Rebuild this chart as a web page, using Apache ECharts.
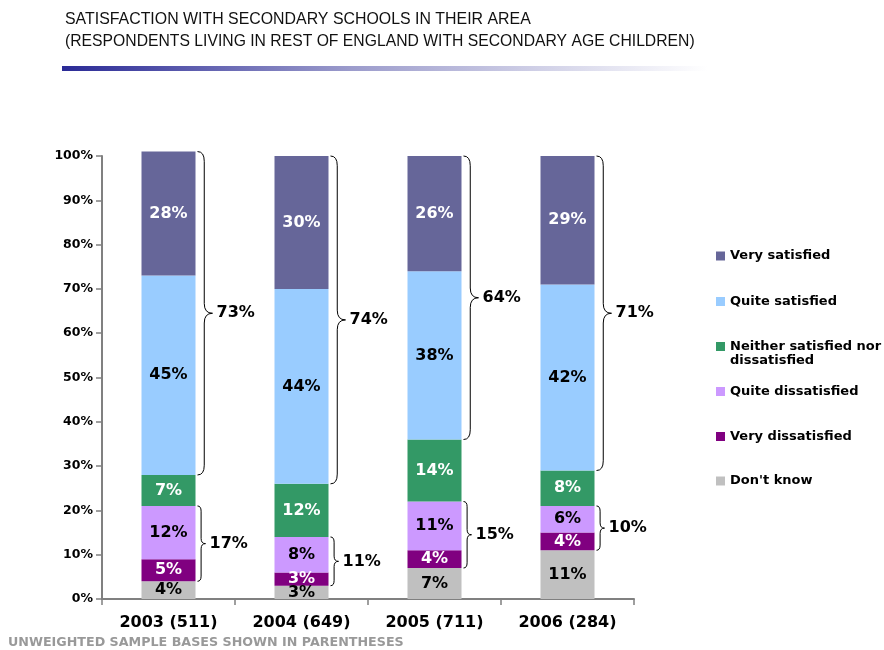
<!DOCTYPE html>
<html>
<head>
<meta charset="utf-8">
<script src="https://cdn.jsdelivr.net/npm/echarts@6/dist/echarts.min.js"></script>
<style>
  html, body { margin: 0; padding: 0; background: #fff; }
  #chart { width: 884px; height: 650px; }
</style>
</head>
<body>
<div id="chart"></div>
<script>
// categories + values (percent), stacked bottom -> top
const categories = ['2003 (511)', '2004 (649)', '2005 (711)', '2006 (284)'];
const dontKnow = [4, 3, 7, 11];
const veryDissatisfied = [5, 3, 4, 4];
const quiteDissatisfied = [12, 8, 11, 6];
const neither = [7, 12, 14, 8];
const quiteSatisfied = [45, 44, 38, 42];
const verySatisfied = [28, 30, 26, 29];
const yTicks = [0, 10, 20, 30, 40, 50, 60, 70, 80, 90, 100];

const FONT = 'DejaVu Sans';
const BAR_W = 54;
const NEITHER = 'Neither satisfied nor\ndissatisfied';

// brace rows: [category index, from, to, total]
const satBrace = categories.map((c, i) => {
  const base = dontKnow[i] + veryDissatisfied[i] + quiteDissatisfied[i] + neither[i];
  return [i, base, base + quiteSatisfied[i] + verySatisfied[i], quiteSatisfied[i] + verySatisfied[i]];
});
const disBrace = categories.map((c, i) => {
  const base = dontKnow[i];
  return [i, base, base + veryDissatisfied[i] + quiteDissatisfied[i], veryDissatisfied[i] + quiteDissatisfied[i]];
});

const chart = echarts.init(document.getElementById('chart'));

function braceRender(w) {
  return function (params, api) {
    const x0 = api.coord([api.value(0), 0])[0] + BAR_W / 2 + 2;
    const yBot = api.coord([api.value(0), api.value(1)])[1];
    const yTop = api.coord([api.value(0), api.value(2)])[1];
    const yMid = (yTop + yBot) / 2;
    const s = w * 0.45;
    const r = w * 0.65;
    const d = 'M' + x0 + ' ' + yTop +
      ' Q' + (x0 + s) + ' ' + yTop + ' ' + (x0 + s) + ' ' + (yTop + r) +
      ' L' + (x0 + s) + ' ' + (yMid - r) +
      ' Q' + (x0 + s) + ' ' + yMid + ' ' + (x0 + w) + ' ' + yMid +
      ' Q' + (x0 + s) + ' ' + yMid + ' ' + (x0 + s) + ' ' + (yMid + r) +
      ' L' + (x0 + s) + ' ' + (yBot - r) +
      ' Q' + (x0 + s) + ' ' + yBot + ' ' + x0 + ' ' + yBot;
    return {
      type: 'group',
      children: [
        { type: 'path', shape: { pathData: d }, style: { fill: 'none', stroke: '#000', lineWidth: 1 } },
        {
          type: 'text',
          style: {
            text: api.value(3) + '%', x: x0 + w + 4, y: yMid,
            fill: '#000', font: 'bold 16px ' + FONT, align: 'left', verticalAlign: 'middle'
          }
        }
      ]
    };
  };
}

function barSeries(name, data, color, labelColor) {
  return {
    name: name,
    type: 'bar',
    stack: 'all',
    barWidth: BAR_W,
    clip: false,
    itemStyle: { color: color },
    label: {
      show: true,
      position: 'inside',
      formatter: '{c}%',
      color: labelColor,
      fontFamily: FONT,
      fontWeight: 'bold',
      fontSize: 16
    },
    emphasis: { disabled: true },
    data: data
  };
}

// one legend per item so the rows keep equal spacing
const legendItems = [
  ['Very satisfied', 249],
  ['Quite satisfied', 294.5],
  [NEITHER, 325.5],
  ['Quite dissatisfied', 384.5],
  ['Very dissatisfied', 429.5],
  ["Don't know", 474]
];

const option = {
  animation: false,
  backgroundColor: '#fff',
  color: ['#C0C0C0', '#800080', '#CC99FF', '#339966', '#99CCFF', '#666699'],
  graphic: [
    {
      type: 'text', x: 65, y: 19.5, scaleX: 0.935,
      style: { text: 'SATISFACTION WITH SECONDARY SCHOOLS IN THEIR AREA', font: '17px "Liberation Sans"', fill: '#111', verticalAlign: 'middle' }
    },
    {
      type: 'text', x: 65, y: 41, scaleX: 0.925,
      style: { text: '(RESPONDENTS LIVING IN REST OF ENGLAND WITH SECONDARY AGE CHILDREN)', font: '17px "Liberation Sans"', fill: '#111', verticalAlign: 'middle' }
    },
    {
      type: 'rect', shape: { x: 62, y: 66, width: 645, height: 5 },
      style: {
        fill: new echarts.graphic.LinearGradient(0, 0, 1, 0, [
          { offset: 0, color: '#2A2A96' },
          { offset: 0.45, color: '#9C9CCC' },
          { offset: 1, color: '#ffffff' }
        ])
      }
    },
    {
      type: 'text', x: 8, y: 643,
      style: { text: 'UNWEIGHTED SAMPLE BASES SHOWN IN PARENTHESES', font: 'bold 12.7px ' + FONT, fill: '#999', verticalAlign: 'middle' }
    }
  ],
  legend: legendItems.map(it => ({
    data: [it[0]],
    left: 716,
    top: it[1],
    orient: 'vertical',
    padding: 0,
    icon: 'rect',
    itemWidth: 9,
    itemHeight: 9,
    selectedMode: false,
    // two-line entry: blank first line keeps "Neither..." level with its square
    formatter: name => (name === NEITHER ? '\n' + name : name),
    textStyle: {
      color: '#000', fontFamily: FONT, fontWeight: 'bold', fontSize: 13, lineHeight: 14
    }
  })),
  grid: { left: 102, right: 250, top: 156, bottom: 51 },
  xAxis: {
    type: 'category',
    data: categories,
    axisLine: { lineStyle: { color: '#808080', width: 2 } },
    axisTick: { show: true, length: 6, lineStyle: { color: '#808080', width: 1.5 } },
    axisLabel: { color: '#000', fontFamily: FONT, fontWeight: 'bold', fontSize: 16, margin: 16 }
  },
  yAxis: {
    type: 'value',
    min: yTicks[0],
    max: yTicks[yTicks.length - 1],
    interval: 10,
    axisLine: { show: true, lineStyle: { color: '#808080', width: 2 } },
    axisTick: { show: true, length: 6, lineStyle: { color: '#808080', width: 1.5 } },
    splitLine: { show: false },
    axisLabel: { color: '#000', fontFamily: FONT, fontWeight: 'bold', fontSize: 12.5, margin: 9, formatter: '{value}%' }
  },
  series: [
    barSeries("Don't know", dontKnow, '#C0C0C0', '#000'),
    barSeries('Very dissatisfied', veryDissatisfied, '#800080', '#fff'),
    barSeries('Quite dissatisfied', quiteDissatisfied, '#CC99FF', '#000'),
    barSeries(NEITHER, neither, '#339966', '#fff'),
    barSeries('Quite satisfied', quiteSatisfied, '#99CCFF', '#000'),
    barSeries('Very satisfied', verySatisfied, '#666699', '#fff'),
    {
      type: 'custom', name: 'satBrace', renderItem: braceRender(15),
      encode: { x: 0, y: [1, 2] }, data: satBrace, silent: true, z: 5
    },
    {
      type: 'custom', name: 'disBrace', renderItem: braceRender(8),
      encode: { x: 0, y: [1, 2] }, data: disBrace, silent: true, z: 5
    }
  ]
};

chart.setOption(option);
</script>
</body>
</html>
